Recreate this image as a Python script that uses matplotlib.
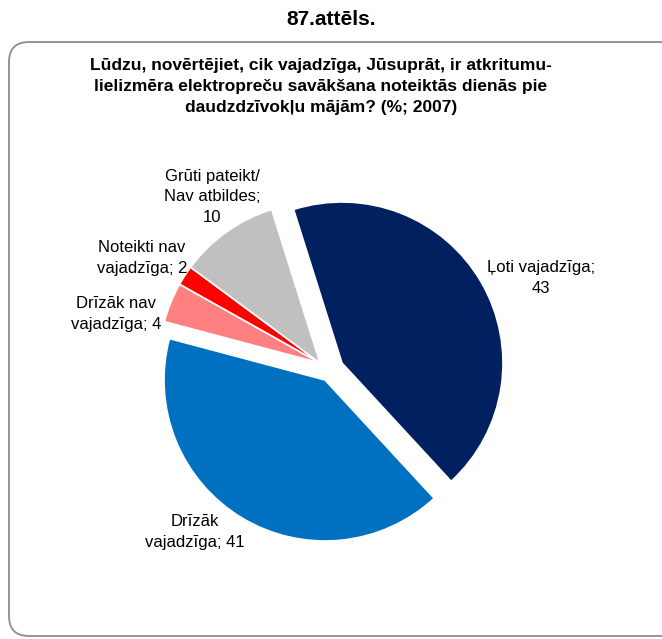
import matplotlib
matplotlib.use("Agg")
import matplotlib.pyplot as plt
from matplotlib.patches import FancyBboxPatch

# ── Data ─────────────────────────────────────────────────────────────────────
categories = ["Ļoti vajadzīga;", "Drīzāk\nvajadzīga;", "Drīzāk nav\nvajadzīga;",
              "Noteikti nav\nvajadzīga;", "Grūti pateikt/\nNav atbildes;"]
values = [43, 41, 4, 2, 10]
value_sep = ["\n", " ", " ", " ", "\n"]   # how the value joins the label text

fig_title = "87.attēls."
chart_title = ("Lūdzu, novērtējiet, cik vajadzīga, Jūsuprāt, ir atkritumu-\n"
               "lielizmēra elektropreču savākšana noteiktās dienās pie\n"
               "daudzdzīvokļu mājām? (%; 2007)")

# ── Style ────────────────────────────────────────────────────────────────────
colors = ["#002060", "#0070C0", "#FF8080", "#FF0000", "#C0C0C0"]
FONT = ["Liberation Sans Narrow", "Liberation Sans", "DejaVu Sans"]
W, H = 662, 639          # canvas, px
CX, CY, R = 320, 363, 161  # pie centre / radius, px (y from top)

# per-slice shift of the wedge centre, px (x right, y down)
shifts = [(22, 0), (5, 17), (0, 0), (0, 0), (0, 0)]
# label centres, px
label_pos = [(541, 278), (195, 532), (116, 314), (142, 258), (212, 197)]


def px(x, y):
    """pixel (from top-left) -> data coords, pie radius = 1"""
    return (x - CX) / R, (CY - y) / R


fig = plt.figure(figsize=(W / 100, H / 100), dpi=100, facecolor="white")
ax = fig.add_axes([0, 0, 1, 1])

wedges, _ = ax.pie(values, colors=colors, startangle=107.5, counterclock=False,
                   radius=1, wedgeprops={"edgecolor": "white", "linewidth": 1.2})
for w, (dx, dy) in zip(wedges, shifts):
    w.set_center((dx / R, -dy / R))

for name, v, sep, (lx, ly) in zip(categories, values, value_sep, label_pos):
    x, y = px(lx, ly)
    ax.text(x, y, f"{name}{sep}{v}", ha="center", va="center", fontsize=12,
            family=FONT, color="black", multialignment="center", linespacing=1.45)

# rounded frame (right side runs off the canvas)
x0, y0 = px(9, 636)
x1, y1 = px(700, 42)
ax.add_patch(FancyBboxPatch((x0, y0), x1 - x0, y1 - y0,
                            boxstyle=f"round,pad=0,rounding_size={20 / R}",
                            facecolor="none", edgecolor="#8C8C8C", linewidth=1.3,
                            zorder=0, clip_on=False))

tx, ty = px(331, 20)
ax.text(tx, ty, fig_title, ha="center", va="center", fontsize=15,
        fontweight="bold", family=FONT)
tx, ty = px(321, 87)
ax.text(tx, ty, chart_title, ha="center", va="center", fontsize=12.5,
        fontweight="bold", family=FONT, multialignment="center", linespacing=1.5)

ax.set_xlim(-CX / R, (W - CX) / R)
ax.set_ylim(-(H - CY) / R, CY / R)
ax.axis("off")

fig.savefig("out.png", dpi=100, facecolor="white")
